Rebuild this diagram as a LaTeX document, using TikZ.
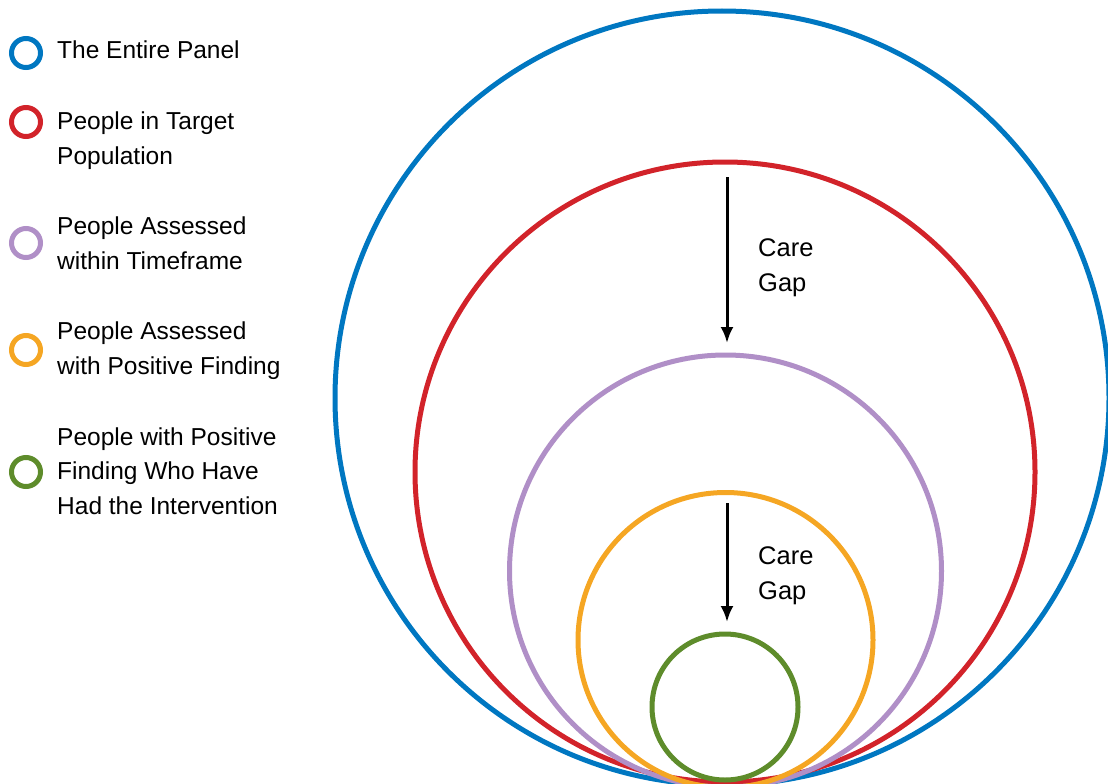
\documentclass[tikz,border=0pt]{standalone}
\usepackage{fontspec}
\setmainfont{Liberation Sans}
\usetikzlibrary{arrows.meta}
\definecolor{panelblue}{HTML}{0077C1}
\definecolor{targetred}{HTML}{D2232A}
\definecolor{assessedlilac}{HTML}{B08FC7}
\definecolor{findingorange}{HTML}{F5A623}
\definecolor{interventiongreen}{HTML}{5E8C2B}
\begin{document}
\begin{tikzpicture}[x=1pt,y=-1pt,>={Latex[length=16pt,width=13pt]},
  ring/.style={line width=5pt},
  legendring/.style={line width=5pt},
  legendtext/.style={anchor=base west,align=left,inner sep=0pt,
    font=\fontsize{24.5}{34.5}\selectfont},
  gap/.style={line width=3pt,->}]
\useasboundingbox (0,0) rectangle (1108,784);
% Kreise, von aussen nach innen
\draw[ring,panelblue]         (722,398)   circle (387);
\draw[ring,targetred]         (725,472)   circle (310);
\draw[ring,assessedlilac]     (725.5,571) circle (216);
\draw[ring,findingorange]     (725.5,640) circle (147.5);
\draw[ring,interventiongreen] (725,707)   circle (73);
% Pfeile fuer die Versorgungsluecken
\coordinate (gapA) at (727,177);
\coordinate (gapAend) at (727,343);
\coordinate (gapB) at (727,503);
\coordinate (gapBend) at (727,622);
\draw[gap] (gapA) -- (gapAend);
\draw[gap] (gapB) -- (gapBend);
% base = Grundlinie der letzten Zeile
\node[legendtext,font=\fontsize{25.5}{34.5}\selectfont] (gapAtext) at (758,291) {Care\\Gap};
\node[legendtext,font=\fontsize{25.5}{34.5}\selectfont] (gapBtext) at (758,599) {Care\\Gap};
% Legende
\foreach \y/\c in {53/panelblue,122/targetred,243/assessedlilac,
  350/findingorange,472/interventiongreen}
  \draw[legendring,\c] (26,\y) circle (14.5);
\node[legendtext] (panel)    at (57,59)  {The Entire Panel};
\node[legendtext] (target)   at (57,164) {People in Target\\Population};
\node[legendtext] (assessed) at (57,269) {People Assessed\\within Timeframe};
\node[legendtext] (positive) at (57,374) {People Assessed\\with Positive Finding};
\node[legendtext] (treated)  at (57,514) {People with Positive\\Finding Who Have\\Had the Intervention};
\end{tikzpicture}
\end{document}
